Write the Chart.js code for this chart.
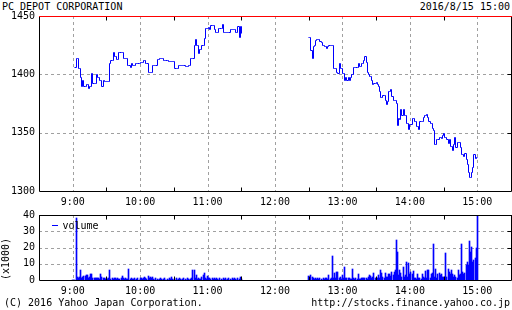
<!DOCTYPE html>
<html><head><meta charset="utf-8">
<script src="https://cdn.jsdelivr.net/npm/chart.js@4"></script>
<style>
html,body{margin:0;padding:0;background:#fff;}
#wrap{position:relative;width:512px;height:310px;overflow:hidden;font-family:"DejaVu Sans Mono",monospace;font-size:10px;color:#000;}
.t{position:absolute;white-space:pre;line-height:12px;}
canvas{position:absolute;left:0;}
</style></head><body>
<div id="wrap">
<div class="t" style="left:2px;top:1px">PC DEPOT CORPORATION</div>
<div class="t" style="right:2px;top:1px">2016/8/15 15:00</div>
<canvas id="p" width="512" height="210" style="top:0;width:512px;height:210px"></canvas>
<canvas id="v" width="512" height="100" style="top:200px;width:512px;height:100px"></canvas>
<div class="t" style="left:4px;top:297px">(C) 2016 Yahoo Japan Corporation.</div>
<div class="t" style="right:2px;top:297px">http://stocks.finance.yahoo.co.jp</div>
</div>
<script>
// x values are minutes after 9:00
const timeTickValues = [0, 60, 120, 180, 240, 300, 360];
const timeTickLabels = ["9:00", "10:00", "11:00", "12:00", "13:00", "14:00", "15:00"];
const halfHourTicks = [30, 90, 150, 210, 270, 330];
const afternoonStart = 210; // 12:30
const priceTicks = [1300, 1350, 1400, 1450];
const volumeTicks = [0, 10, 20, 30, 40];

// price per minute, morning session 9:00-11:30
const morningPrice = [null,null,1406,1414,1414,1405,1405,1397,1390,1395,
1390,1390,1391,1391,1388,1390,1390,1401,1392,1392,
1392,1400,1397,1397,1395,1395,1390,1395,1394,1394,
1394,1394,1394,1409,1412,1412,1419,1415,1415,1413,
1413,1419,1419,1419,1419,1414,1414,1414,1414,1408,
1408,1406,1409,1408,1408,1408,1409,1409,1409,1409,
1410,1410,1410,1412,1412,1409,1409,1402,1402,1402,
1402,1408,1408,1408,1408,1413,1413,1414,1414,1414,
1414,1412,1412,1412,1412,1411,1411,1411,1411,1411,
1411,1405,1405,1405,1408,1408,1408,1408,1408,1408,
1407,1407,1407,1408,1408,1414,1414,1414,1425,1430,
1425,1425,1418,1421,1421,1425,1425,1431,1439,1439,
1439,1440,1438,1442,1442,1442,1438,1436,1436,1436,
1439,1439,1439,1443,1436,1436,1436,1436,1436,1436,
1438,1438,1438,1438,1438,1436,1436,1441,1432,1441,
1435];
// price per minute, afternoon session 12:30-15:00
const afternoonPrice = [1432,1432,1420,1414,1424,1425,1429,1430,1430,1430,
1428,1427,1425,1425,1424,1424,1422,1424,1425,1425,
1425,1425,1405,1405,1405,1402,1401,1409,1405,1405,
1401,1401,1395,1397,1395,1397,1395,1397,1400,1400,
1406,1406,1406,1406,1409,1407,1407,1409,1409,1412,
1415,1410,1402,1400,1398,1398,1395,1391,1392,1392,
1393,1391,1390,1385,1380,1380,1382,1382,1378,1374,
1377,1385,1385,1387,1381,1378,1378,1378,1375,1356,
1362,1361,1370,1365,1370,1365,1365,1358,1358,1353,
1357,1357,1362,1362,1360,1360,1355,1355,1353,1360,
1360,1360,1363,1365,1365,1366,1363,1360,1358,1358,
1354,1352,1340,1340,1344,1344,1346,1346,1345,1348,
1349,1346,1346,1344,1341,1344,1338,1338,1335,1340,
1346,1337,1342,1342,1342,1337,1331,1331,1330,1332,
1327,1323,1316,1312,1312,1316,1320,1331,1328,1329,
1329];
// volume (x1000) per minute
const morningVolume = [0,0,0,38,2,1.5,2,6,1.5,2,
2.6,2.6,3,3,1.5,2,4,4,1.5,1,
1,1.5,1.5,1.5,0.5,3.5,2,1,1.5,0.5,
1,0.5,1,6.3,0.5,1,0.5,1,1,0.5,
1.5,0.5,0.5,1,2.6,1,0.5,1,0.5,0.5,
7,0.5,1,0.5,0.5,1,0,0.5,1.5,0,
1.5,1,0.5,1.5,2,1,0.5,2.4,1.5,2,
1,2,0.5,0,1,0.5,0,0.5,1,0.5,
0,0.5,1,0,0.5,0,1,0.5,1.6,0.5,
0,0.5,1,0,0.5,1,0.5,0,0.5,1,
0.5,0,1,0.5,0,0.5,1,6.3,6.3,1,
3,0.5,1,0.5,0.5,2,3,4.5,1,0.5,
2.4,1,1.5,0.5,1,0.5,1,0.5,1,0.5,
0,1,0.5,0,1,0.5,1,0,0.5,1,
0.5,0,1,0.5,1.5,0.5,0,1,0.5,1.8,
0.5];
const afternoonVolume = [2.7,1,3,2,1.5,0.5,1,0.5,1,0.5,
1,0.5,0,1,0.5,1.5,1,0.5,3,0.5,
1.5,15,1,4.5,1,4.7,5.1,1.5,2,0.5,
3.3,1,8.2,1.5,1,1.5,1,0.5,0.5,7,
1,0.5,1,0.5,3.9,0.5,0.5,1,1.5,1.5,
1.2,1.5,0.5,2,3,2.5,1,2,4.5,1.5,
1,1.5,3,1,6.4,4.5,2,1.5,4.5,1.8,
2,3.9,3.5,2.5,4.7,3,5,6.4,24.8,17.4,
3,6.2,4.5,2,8.2,2,3,11.3,2,10.3,
4,5,4,5.7,1.5,1,0.5,4,1,1.5,
0.5,3.5,2,1,5.5,1,6.2,6,1,4,
4.5,22,2,6.8,1,4,4.5,3,4,1.8,
2,1,16.4,1.8,6.8,5,4,6.2,3.5,2,
3,2,1,6.2,3,4,22.3,5,4,4.5,
9.2,11.3,9,24.2,17.4,20.5,11.3,12.3,13.3,19.5,
45];

const FONT = {family: 'DejaVu Sans Mono', size: 10};
const pricePoints = morningPrice.map((v, i) => ({x: i, y: v}))
  .concat([{x: 180, y: null}])
  .concat(afternoonPrice.map((v, i) => ({x: afternoonStart + i, y: v})));
const volumePoints = morningVolume.map((v, i) => ({x: i, y: v}))
  .concat(afternoonVolume.map((v, i) => ({x: afternoonStart + i, y: v})));

const frame = {
  id: 'frame',
  beforeDatasetsDraw(chart, args, o) {
    const {ctx, chartArea: a, scales: {x, y}} = chart;
    // snap the library-computed element positions to the pixel grid for crisp 1px marks
    const meta = chart.getDatasetMeta(0);
    for (const el of meta.data) {
      if (!isNaN(el.x)) el.x = Math.floor(el.x) + 0.5;
      if (meta.type === 'line') { if (!isNaN(el.y)) el.y = Math.floor(el.y) + 0.5; }
      else if (!isNaN(el.y)) { el.y = Math.round(el.y); el.base = Math.round(el.base); }
    }
    ctx.save();
    ctx.strokeStyle = '#a0a0a0'; ctx.lineWidth = 1; ctx.setLineDash([3, 3]);
    ctx.beginPath();
    for (const v of timeTickValues) { const px = Math.round(x.getPixelForValue(v)) + 0.5; ctx.moveTo(px, a.top); ctx.lineTo(px, a.bottom); }
    for (const v of o.gridY) { const py = Math.round(y.getPixelForValue(v)) + 0.5; ctx.moveTo(a.left, py); ctx.lineTo(a.right, py); }
    ctx.stroke();
    ctx.restore();
  },
  afterDatasetsDraw(chart, args, o) {
    const {ctx, chartArea: a, scales: {x, y}} = chart;
    const L = Math.round(a.left) + 0.5, R = Math.round(a.right) + 0.5, T = Math.round(a.top) + 0.5, B = Math.round(a.bottom) + 0.5;
    ctx.save();
    ctx.setLineDash([]); ctx.lineWidth = 1; ctx.strokeStyle = '#000';
    ctx.beginPath();
    ctx.moveTo(L, T); ctx.lineTo(L, B); ctx.lineTo(R, B); ctx.lineTo(R, T);
    for (const v of halfHourTicks) { const px = Math.round(x.getPixelForValue(v)) + 0.5; ctx.moveTo(px, T); ctx.lineTo(px, T + 4); ctx.moveTo(px, B); ctx.lineTo(px, B - 4); }
    for (const v of o.gridY) { const py = Math.round(y.getPixelForValue(v)) + 0.5; ctx.moveTo(R, py); ctx.lineTo(R - 4, py); }
    ctx.stroke();
    ctx.strokeStyle = o.topColor; ctx.beginPath(); ctx.moveTo(L - 0.5, T); ctx.lineTo(R + 0.5, T); ctx.stroke();
    if (o.legend) {
      const ds = chart.data.datasets[0];
      ctx.strokeStyle = ds.backgroundColor; ctx.beginPath(); ctx.moveTo(52, 25.5); ctx.lineTo(58, 25.5); ctx.stroke();
      ctx.fillStyle = '#000'; ctx.font = '10px "DejaVu Sans Mono"'; ctx.textBaseline = 'alphabetic'; ctx.textAlign = 'left';
      ctx.fillText(ds.label, 62.5, 29);
    }
    ctx.restore();
  }
};

function xScale(h) {
  return {
    type: 'linear', min: -30, max: 390, offset: false,
    grid: {display: false, drawTicks: false}, border: {display: false},
    afterBuildTicks: s => { s.ticks = timeTickValues.map(v => ({value: v})); },
    ticks: {font: FONT, color: '#000', padding: 5, maxRotation: 0, autoSkip: false,
      callback: v => timeTickLabels[timeTickValues.indexOf(v)] ?? ''},
    afterFit: s => { s.height = h; }
  };
}

new Chart(document.getElementById('p'), {
  type: 'line',
  data: {datasets: [{label: 'price', data: pricePoints, borderColor: '#0000ff', borderWidth: 1,
    pointRadius: 0, stepped: true, spanGaps: false, fill: false}]},
  options: {
    responsive: false, animation: false, devicePixelRatio: 1,
    layout: {padding: {top: 16, right: 1, left: 0, bottom: 0}},
    plugins: {legend: {display: false}, tooltip: {enabled: false}, frame: {gridY: [1350, 1400], topColor: '#ff0000'}},
    scales: {
      x: xScale(19),
      y: {type: 'linear', min: 1300, max: 1450,
        grid: {display: false, drawTicks: false}, border: {display: false},
        afterBuildTicks: s => { s.ticks = priceTicks.map(v => ({value: v})); },
        ticks: {font: FONT, color: '#000', padding: 4, callback: v => String(v)},
        afterFit: s => { s.width = 39; }}
    }
  },
  plugins: [frame]
});

new Chart(document.getElementById('v'), {
  type: 'bar',
  data: {datasets: [{label: 'volume', data: volumePoints, backgroundColor: '#0000ff', borderWidth: 0, barThickness: 1}]},
  options: {
    responsive: false, animation: false, devicePixelRatio: 1,
    layout: {padding: {top: 15, right: 1, left: 0, bottom: 0}},
    plugins: {legend: {display: false}, tooltip: {enabled: false}, frame: {gridY: [10, 20, 30], topColor: '#000', legend: true}},
    scales: {
      x: xScale(20),
      y: {type: 'linear', min: 0, max: 40,
        grid: {display: false, drawTicks: false}, border: {display: false},
        afterBuildTicks: s => { s.ticks = volumeTicks.map(v => ({value: v})); },
        title: {display: true, text: '(x1000)', align: 'start', font: FONT, color: '#000', padding: 0},
        ticks: {font: FONT, color: '#000', padding: 4, callback: v => String(v)},
        afterFit: s => { s.width = 39; }}
    }
  },
  plugins: [frame]
});
</script>
</body></html>
